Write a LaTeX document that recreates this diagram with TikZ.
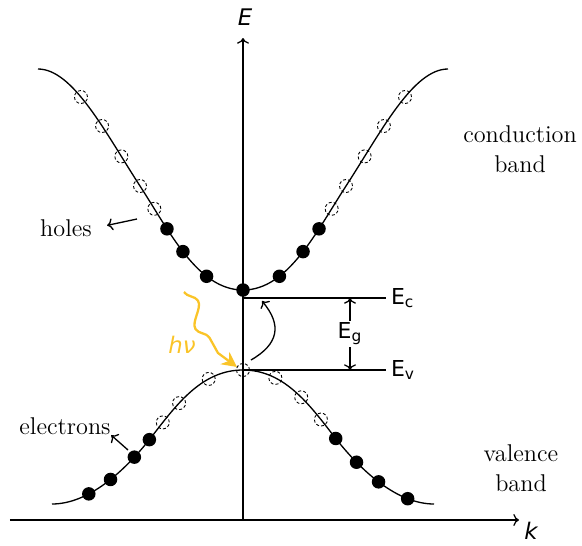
\documentclass[tikz,border=0pt]{standalone}
\usepackage{fontspec}
\newfontfamily\labelfont{DejaVu Sans}[ItalicFont={DejaVu Sans Oblique}]
\usetikzlibrary{arrows.meta,decorations.pathmorphing}
\definecolor{photon}{RGB}{250,196,40}
\tikzset{
  fulldot/.style={circle,fill=black,inner sep=0pt,minimum size=.27cm},
  holedot/.style={circle,draw=black,line width=.5pt,dash pattern=on 1.7pt off 1.2pt,inner sep=0pt,minimum size=.26cm},
  bandtext/.style={font=\fontsize{13.8}{17}\selectfont,align=center,inner sep=0pt},
  axistext/.style={font=\labelfont\itshape\fontsize{13}{15}\selectfont,inner sep=0pt},
  leveltext/.style={font=\labelfont\fontsize{12.5}{14}\selectfont},
}
\newcommand\lvl[2]{#1\textsubscript{#2}}
\begin{document}
\begin{tikzpicture}[line width=.75pt]
  \useasboundingbox (-4.86,-.5) rectangle (6.78,10.4);
  % axes
  \coordinate (O) at (0,0);
  \coordinate (kleft) at (-4.66,0);
  \coordinate (kright) at (5.52,0);
  \coordinate (Etop) at (0,9.64);
  \draw[->] (kleft) -- (kright);
  \draw[->] (O) -- (Etop);
  \node[axistext] (Elabel) at (.04,10.06) {E};
  \node[axistext] (klabel) at (5.76,-.22) {k};
  % band edges and gap
  \coordinate (Ec) at (0,4.44);
  \coordinate (Ev) at (0,3.0);
  \draw (Ec) -- ++(2.86,0) node[leveltext,right,inner sep=2.5pt] (Eclabel) {\lvl Ec};
  \draw (Ev) -- ++(2.86,0) node[leveltext,right,inner sep=2.5pt] (Evlabel) {\lvl Ev};
  \draw[<->] ([xshift=2.14cm]Ec) -- ([xshift=2.14cm]Ev)
    node[midway,fill=white,leveltext,inner sep=1pt] (Eglabel) {\lvl Eg};
  % conduction band, both halves
  \foreach \s in {1,-1} {
    \begin{scope}[xscale=\s]
      \draw (0,4.6) .. controls (.9,4.6) and (1.46,5.756) .. (2.06,6.68)
          node[fulldot,pos=.3] {} node[fulldot,pos=.53] {} node[fulldot,pos=.7] {}
          node[holedot,pos=.84] {} node[holedot,pos=1] {}
        .. controls (2.76,7.76) and (3.4,9.02) .. (4.1,9.02)
          node[holedot,pos=.18] {} node[holedot,pos=.37] {} node[holedot,pos=.58] {};
    \end{scope}
  }
  \node[fulldot] (cbmin) at (0,4.6) {};
  % valence band
  \foreach \s/\hpos/\epos in {1/{.3,.59,.84}/{.03,.25,.47,.75}, -1/{.32,.66,.87}/{.04,.2,.44,.65}} {
    \begin{scope}[xscale=\s, yshift=3cm]
      \draw (0,0) .. controls (.8,0) and (1.3,-.65) .. (1.8,-1.3)
        .. controls (2.4,-2.08) and (3.12,-2.68) .. (3.82,-2.68);
      \foreach \p [count=\i] in \hpos
        \path (0,0) .. controls (.8,0) and (1.3,-.65) .. (1.8,-1.3) node[holedot,pos=\p] (vh\s\i) {};
      \foreach \p [count=\i] in \epos
        \path (1.8,-1.3) .. controls (2.4,-2.08) and (3.12,-2.68) .. (3.82,-2.68) node[fulldot,pos=\p] (ve\s\i) {};
    \end{scope}
  }
  \node[holedot] (vbmax) at (0,3.0) {};
  % excitation across the gap
  \coordinate (exfrom) at (.16,3.2);
  \coordinate (exto) at (.38,4.38);
  \draw[->] (exfrom) to[out=30,in=-50,looseness=1.35] (exto);
  % photon
  \coordinate (hvfrom) at (-1.18,4.56);
  \coordinate (hvmid) at (-.5,3.34);
  \coordinate (hvto) at (-.12,3.06);
  \draw[photon,line width=1.3pt,-{Stealth[length=.3cm,width=.3cm]}]
    (hvfrom) decorate[decoration={snake,amplitude=.16cm,segment length=.93cm}] {-- (hvmid)} -- (hvto);
  \node[axistext,text=photon] (hv) at (-1.22,3.5) {hν};
  % labels
  \node[bandtext] (cband) at (5.54,7.41) {conduction\\band};
  \node[bandtext] (vband) at (5.56,1.04) {valence\\band};
  \node[bandtext] (holes) at (-3.54,5.83) {holes};
  \node[bandtext] (electrons) at (-3.56,1.88) {electrons};
  \coordinate (holetail) at (-2.12,6.02);
  \coordinate (electail) at (-2.3,1.4);
  \draw[->,shorten >=8.5pt] (holetail) -- (holes.east);
  \draw[->] (electail) -- (electrons.south east);
\end{tikzpicture}
\end{document}
